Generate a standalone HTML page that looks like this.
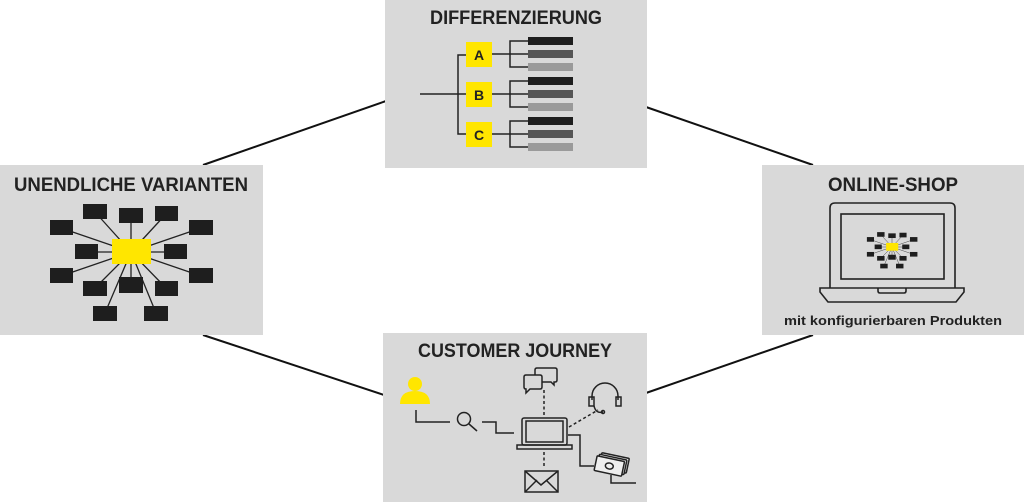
<!DOCTYPE html>
<html><head><meta charset="utf-8"><style>
html,body{margin:0;padding:0;background:#fff;width:1024px;height:502px;overflow:hidden}
svg{display:block}
text{font-family:"Liberation Sans",sans-serif;font-weight:bold;fill:#222}
</style></head><body>
<svg width="1024" height="502" viewBox="0 0 1024 502">
<defs>
<g id="star">
 <g stroke="#222" stroke-width="1.3">
  <line x1="131" y1="252" x2="95" y2="212"/><line x1="131" y1="252" x2="131" y2="215"/>
  <line x1="131" y1="252" x2="166" y2="214"/><line x1="131" y1="252" x2="61" y2="228"/>
  <line x1="131" y1="252" x2="201" y2="228"/><line x1="131" y1="252" x2="87" y2="252"/>
  <line x1="131" y1="252" x2="175" y2="252"/><line x1="131" y1="252" x2="61" y2="276"/>
  <line x1="131" y1="252" x2="201" y2="276"/><line x1="131" y1="252" x2="95" y2="288"/>
  <line x1="131" y1="252" x2="131" y2="285"/><line x1="131" y1="252" x2="166" y2="288"/>
  <line x1="131" y1="252" x2="105" y2="313"/><line x1="131" y1="252" x2="156" y2="313"/>
 </g>
 <g fill="#1e1e1e">
  <rect x="50" y="220" width="23" height="15"/><rect x="83" y="204" width="24" height="15"/>
  <rect x="119" y="208" width="24" height="15"/><rect x="155" y="206" width="23" height="15"/>
  <rect x="189" y="220" width="24" height="15"/><rect x="75" y="244" width="23" height="15"/>
  <rect x="164" y="244" width="23" height="15"/><rect x="50" y="268" width="23" height="15"/>
  <rect x="189" y="268" width="24" height="15"/><rect x="83" y="281" width="24" height="15"/>
  <rect x="119" y="277" width="24" height="16"/><rect x="155" y="281" width="23" height="15"/>
  <rect x="93" y="306" width="24" height="15"/><rect x="144" y="306" width="24" height="15"/>
 </g>
 <rect x="112" y="239" width="39" height="25" fill="#ffe600"/>
</g>
</defs>
<g stroke="#111" stroke-width="2">
 <line x1="203" y1="165" x2="386" y2="101"/>
 <line x1="646" y1="107" x2="813" y2="165"/>
 <line x1="203" y1="335" x2="384" y2="395"/>
 <line x1="813" y1="335" x2="646" y2="393"/>
</g>
<rect x="385" y="0" width="262" height="168" fill="#d9d9d9"/>
<rect x="0" y="165" width="263" height="170" fill="#d9d9d9"/>
<rect x="762" y="165" width="262" height="170" fill="#d9d9d9"/>
<rect x="383" y="333" width="264" height="169" fill="#d9d9d9"/>

<text x="516" y="24" font-size="19" text-anchor="middle" textLength="172" lengthAdjust="spacingAndGlyphs">DIFFERENZIERUNG</text>
<g stroke="#222" stroke-width="1.5" fill="none">
 <line x1="420" y1="94" x2="466" y2="94"/>
 <polyline points="466,55 458,55 458,134 466,134"/>
 <line x1="492" y1="54" x2="510" y2="54"/><polyline points="528,41 510,41 510,67 528,67"/><line x1="510" y1="54" x2="528" y2="54"/>
 <line x1="492" y1="94" x2="510" y2="94"/><polyline points="528,81 510,81 510,107 528,107"/><line x1="510" y1="94" x2="528" y2="94"/>
 <line x1="492" y1="134" x2="510" y2="134"/><polyline points="528,121 510,121 510,147 528,147"/><line x1="510" y1="134" x2="528" y2="134"/>
</g>
<g fill="#ffe600"><rect x="466" y="42" width="26" height="25"/><rect x="466" y="82" width="26" height="25"/><rect x="466" y="122" width="26" height="25"/></g>
<g font-size="14"><text x="479" y="60" text-anchor="middle">A</text><text x="479" y="100" text-anchor="middle">B</text><text x="479" y="140" text-anchor="middle">C</text></g>
<g>
 <rect x="528" y="37" width="45" height="8" fill="#1e1e1e"/><rect x="528" y="50" width="45" height="8" fill="#555"/><rect x="528" y="63" width="45" height="8" fill="#9a9a9a"/>
 <rect x="528" y="77" width="45" height="8" fill="#1e1e1e"/><rect x="528" y="90" width="45" height="8" fill="#555"/><rect x="528" y="103" width="45" height="8" fill="#9a9a9a"/>
 <rect x="528" y="117" width="45" height="8" fill="#1e1e1e"/><rect x="528" y="130" width="45" height="8" fill="#555"/><rect x="528" y="143" width="45" height="8" fill="#9a9a9a"/>
</g>

<text x="131" y="191" font-size="19" text-anchor="middle" textLength="234" lengthAdjust="spacingAndGlyphs">UNENDLICHE VARIANTEN</text>
<use href="#star"/>

<text x="893" y="191" font-size="19" text-anchor="middle" textLength="130" lengthAdjust="spacingAndGlyphs">ONLINE-SHOP</text>
<g fill="none" stroke="#222" stroke-width="1.6">
 <path d="M830,288 V208 q0,-5 5,-5 H950 q5,0 5,5 V288"/>
 <rect x="841" y="214" width="103" height="65"/>
 <path d="M820,288 H964 V292 L956,302 H828 L820,292 Z"/>
 <path d="M878,288 v3 q0,2 2,2 h24 q2,0 2,-2 v-3"/>
</g>
<use href="#star" transform="translate(892,247) scale(0.31) translate(-131,-252)"/>
<text x="893" y="325" font-size="13" text-anchor="middle" textLength="218" lengthAdjust="spacingAndGlyphs">mit konfigurierbaren Produkten</text>

<text x="515" y="357" font-size="19" text-anchor="middle" textLength="194" lengthAdjust="spacingAndGlyphs">CUSTOMER JOURNEY</text>
<g fill="#ffe600"><circle cx="415" cy="384" r="7"/><path d="M400,404 q0,-13 15,-13 q15,0 15,13 Z"/></g>
<g fill="none" stroke="#222" stroke-width="1.5">
 <polyline points="416,410 416,422 450,422"/>
 <circle cx="464" cy="419" r="6.5"/><line x1="469" y1="424" x2="477" y2="431"/>
 <polyline points="482,422 496,422 496,433 514,433"/>
 <rect x="522" y="418" width="45" height="27" rx="2"/><rect x="526" y="421" width="37" height="21"/>
 <path d="M517,445 H572 V449 H517 Z"/>
 <polyline points="568,435 580,435 580,466 594,466"/>
 <rect x="525" y="471" width="33" height="21"/><polyline points="525,471 541,485 558,471"/><polyline points="525,492 537,480"/><polyline points="558,492 546,480"/>
 <path d="M524,377 q0,-2 2,-2 h14 q2,0 2,2 v10 q0,2 -2,2 h-10 l-4,4 v-4 h-0 q-2,0 -2,-2 z"/>
 <path d="M535,375 v-5 q0,-2 2,-2 h18 q2,0 2,2 v10 q0,2 -2,2 h-1 v3 l-3,-3 h-9"/>
 <path d="M592,400 v-4 a13,13 0 0 1 26,0 v4"/><rect x="589" y="397" width="5" height="9"/><rect x="616" y="397" width="5" height="9"/>
 <path d="M594,406 q2,8 9,6"/><circle cx="603" cy="412" r="1.5"/>
 <polyline points="611,475 611,483 636,483"/>
</g>
<g stroke="#222" stroke-width="1.5" stroke-dasharray="3,2.5">
 <line x1="544" y1="390" x2="544" y2="415"/><line x1="544" y1="452" x2="544" y2="468"/>
 <line x1="569" y1="427" x2="598" y2="410"/>
</g>
<g transform="rotate(12 612 463)" fill="#eee" stroke="#222" stroke-width="1.5">
 <rect x="600" y="455" width="28" height="15" rx="1"/><rect x="598" y="457" width="28" height="15" rx="1"/><rect x="596" y="459" width="28" height="15" rx="1"/>
 <ellipse cx="610" cy="466.5" rx="4" ry="3" fill="none"/>
</g>
</svg>
</body></html>
